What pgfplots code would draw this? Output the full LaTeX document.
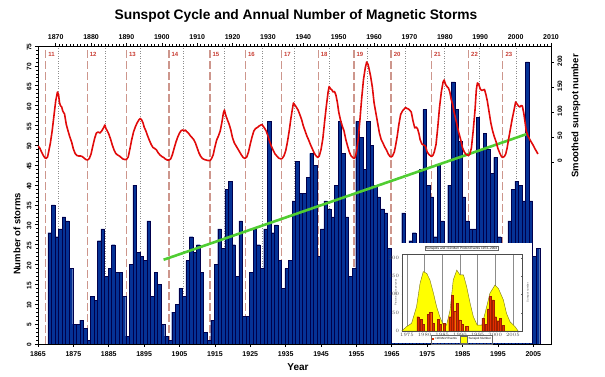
\documentclass[border=0pt]{standalone}
\usepackage{pgfplots}
\pgfplotsset{compat=1.18}
\usepackage{pgfplotstable}
\usepackage{fontspec}
\setmainfont{Liberation Sans}
\definecolor{barblue}{RGB}{5,50,150}
\definecolor{sunred}{RGB}{225,10,10}
\definecolor{trendgreen}{RGB}{80,205,50}
\definecolor{mindash}{RGB}{205,150,140}
\definecolor{cyclab}{RGB}{200,60,50}
\definecolor{maxdot}{RGB}{140,140,140}
\definecolor{insetyellow}{RGB}{255,255,0}
\definecolor{insetred}{RGB}{225,45,0}

\pgfplotstableread{
year n
1868 28
1869 35
1870 27
1871 29
1872 32
1873 31
1874 19
1875 5
1876 5
1877 6
1878 4
1879 1
1880 12
1881 11
1882 26
1883 29
1884 17
1885 19
1886 25
1887 18
1888 18
1889 12
1890 2
1891 20
1892 40
1893 23
1894 22
1895 21
1896 31
1897 12
1898 18
1899 15
1900 5
1901 2
1902 1
1903 8
1904 10
1905 14
1906 12
1907 21
1908 27
1909 23
1910 25
1911 18
1912 3
1913 1
1914 6
1915 20
1916 29
1917 24
1918 39
1919 41
1920 25
1921 17
1922 31
1923 7
1924 7
1925 18
1926 29
1927 25
1928 19
1929 29
1930 56
1931 28
1932 30
1933 21
1934 14
1935 19
1936 21
1937 36
1938 46
1939 38
1940 38
1941 42
1942 48
1943 45
1944 22
1945 29
1946 36
1947 34
1948 32
1949 40
1950 56
1951 48
1952 32
1953 17
1954 19
1955 56
1956 52
1957 44
1958 56
1959 50
1960 40
1961 37
1962 34
1963 33
1964 24
1965 12
1966 15
1967 18
1968 33
1969 18
1970 26
1971 28
1972 22
1973 44
1974 59
1975 40
1976 37
1977 27
1978 45
1979 31
1980 20
1981 40
1982 66
1983 59
1984 51
1985 37
1986 31
1987 29
1988 29
1989 57
1990 49
1991 53
1992 49
1993 43
1994 47
1995 27
1996 18
1997 18
1998 31
1999 39
2000 41
2001 40
2002 36
2003 71
2004 36
2005 22
2006 24
}\storms

\pgfplotstableread{
t s
1865.0 32
1865.5 28
1866.0 20
1866.5 13
1867.0 8
1867.3 7
1867.7 10
1868.0 20
1868.5 38
1869.0 62
1869.5 92
1870.0 122
1870.5 140
1870.8 135
1871.1 118
1871.4 112
1871.7 110
1872.0 102
1872.5 96
1873.0 75
1873.5 62
1874.0 50
1874.5 40
1875.0 26
1875.5 17
1876.0 13
1876.5 12
1877.0 12
1877.5 11
1878.0 8
1878.5 5
1879.0 4
1879.5 7
1880.0 16
1880.5 32
1881.0 47
1881.5 58
1882.0 60
1882.5 58
1883.0 62
1883.5 68
1883.9 74
1884.2 67
1884.6 62
1885.0 56
1885.5 46
1886.0 34
1886.5 24
1887.0 17
1887.5 14
1888.0 12
1888.5 9
1889.0 6
1889.5 5
1890.0 5
1890.5 10
1891.0 27
1891.5 45
1892.0 60
1892.5 70
1893.0 78
1893.5 84
1893.9 87
1894.3 84
1894.7 78
1895.0 70
1895.5 62
1896.0 52
1896.5 43
1897.0 35
1897.5 29
1898.0 27
1898.5 24
1899.0 18
1899.5 14
1900.0 11
1900.5 9
1901.0 6
1901.5 4
1902.0 4
1902.5 6
1903.0 15
1903.5 28
1904.0 40
1904.5 50
1905.0 58
1905.5 63
1906.0 64
1906.3 62
1906.6 64
1907.0 61
1907.5 58
1908.0 53
1908.5 49
1909.0 45
1909.5 38
1910.0 28
1910.5 18
1911.0 11
1911.5 7
1912.0 5
1912.5 4
1913.0 3
1913.6 3
1914.0 6
1914.5 14
1915.0 30
1915.5 44
1916.0 52
1916.5 62
1917.0 80
1917.4 98
1917.7 104
1918.0 95
1918.5 85
1919.0 76
1919.5 64
1920.0 48
1920.5 38
1921.0 32
1921.5 26
1922.0 20
1922.5 14
1923.0 9
1923.5 7
1924.0 10
1924.5 20
1925.0 36
1925.5 50
1926.0 62
1926.5 67
1927.0 69
1927.5 72
1928.0 74
1928.3 75
1928.6 72
1929.0 68
1929.5 62
1930.0 52
1930.5 40
1931.0 31
1931.5 23
1932.0 16
1932.5 12
1933.0 8
1933.7 6
1934.0 7
1934.5 12
1935.0 22
1935.5 40
1936.0 62
1936.5 88
1937.0 110
1937.2 118
1937.5 115
1938.0 110
1938.5 104
1939.0 95
1939.5 85
1940.0 72
1940.5 62
1941.0 52
1941.5 44
1942.0 35
1942.5 27
1943.0 19
1943.5 13
1944.1 9
1944.5 12
1945.0 25
1945.5 46
1946.0 80
1946.5 112
1947.0 140
1947.3 151
1947.7 146
1948.0 145
1948.4 140
1948.8 141
1949.2 134
1949.6 120
1950.0 100
1950.5 84
1951.0 72
1951.5 62
1952.0 45
1952.5 32
1953.0 20
1953.5 12
1954.3 7
1954.7 10
1955.0 20
1955.5 45
1956.0 85
1956.5 128
1957.0 165
1957.5 188
1957.9 200
1958.3 195
1958.7 182
1959.0 172
1959.5 150
1960.0 118
1960.5 98
1961.0 78
1961.5 58
1962.0 45
1962.5 38
1963.0 30
1963.5 24
1964.0 16
1964.5 11
1964.8 10
1965.2 12
1965.7 20
1966.0 30
1966.5 50
1967.0 75
1967.5 95
1968.0 102
1968.5 106
1968.9 109
1969.3 107
1969.7 106
1970.0 104
1970.5 100
1971.0 82
1971.5 68
1971.9 70
1972.3 66
1972.7 56
1973.0 45
1973.5 36
1974.0 34
1974.5 32
1975.0 20
1975.5 15
1976.2 11
1976.6 13
1977.0 20
1977.5 35
1978.0 70
1978.5 110
1979.0 140
1979.5 160
1979.8 164
1980.2 155
1980.7 150
1981.0 148
1981.4 140
1981.8 125
1982.2 115
1982.6 100
1983.0 88
1983.5 72
1984.0 57
1984.5 44
1985.0 28
1985.5 20
1986.0 15
1986.7 13
1987.0 15
1987.5 28
1988.0 62
1988.5 102
1988.9 145
1989.2 158
1989.6 155
1990.0 146
1990.4 143
1990.8 144
1991.2 145
1991.6 135
1992.0 122
1992.5 100
1993.0 78
1993.5 62
1994.0 50
1994.5 40
1995.0 27
1995.5 18
1996.0 11
1996.3 9
1996.8 11
1997.2 16
1997.6 28
1998.0 45
1998.5 65
1999.0 85
1999.5 102
2000.0 120
2000.4 116
2000.8 112
2001.2 110
2001.6 113
2001.9 112
2002.3 98
2002.7 78
2003.0 62
2003.5 52
2004.0 45
2004.5 39
2005.0 33
2005.5 26
2006.0 20
2006.3 16
}\ssn

\pgfplotstableread{
t s
1973.5 0
1974.9 12
1976.3 21
1977.7 66
1978.7 130
1979.6 162
1980.6 157
1981.5 139
1982.5 103
1983.4 66
1984.3 39
1985.3 16
1986.2 16
1987.2 57
1988.1 139
1989.1 166
1990.0 153
1991.0 153
1991.9 121
1992.9 75
1993.8 39
1994.9 16
1996.2 16
1997.1 48
1998.5 103
1999.9 125
2000.9 116
2002.3 85
2003.2 48
2004.2 25
2005.6 12
2006.5 0
}\insetssn

\pgfplotstableread{
t e
1978.1 39
1978.9 32
1979.5 19
1981.0 46
1981.7 51
1982.5 21
1983.8 32
1984.5 19
1985.6 21
1987.1 39
1987.8 98
1988.5 53
1989.3 75
1989.9 30
1990.6 19
1991.9 12
1996.5 35
1997.3 19
1998.0 60
1998.6 94
1999.4 85
2000.0 39
2000.8 28
2001.4 35
2002.2 16
}\insetev

\begin{document}
\begin{tikzpicture}
\path[use as bounding box] (0pt,0pt) rectangle (605pt,377pt);

% ---------------- main axis (storms) ----------------
\begin{axis}[
  at={(38pt,33pt)}, anchor=south west,
  width=513pt, height=298pt, scale only axis,
  xmin=1865, xmax=2010, ymin=0, ymax=75,
  axis line style={line width=0.8pt},
  xtick={1865,1875,...,2005}, xtick pos=bottom,
  ytick={0,5,...,75}, ytick pos=left,
  minor y tick num=4,
  tick align=outside,
  major tick length=3pt, minor tick length=1.6pt,
  every tick/.style={black, line width=0.6pt},
  /pgf/number format/assume math mode=true,
  /pgf/number format/1000 sep={},
  xticklabel style={font=\bfseries\fontsize{7}{8}\selectfont, yshift=-1pt},
  yticklabel style={font=\bfseries\fontsize{6.5}{7}\selectfont, rotate=90, anchor=south, xshift=-1pt},
  clip=true,
]
\addplot[ycomb, mark=none, maxdot, line width=0.5pt, dotted] coordinates {
(1870.6,75) (1883.9,75) (1894.0,75) (1906.1,75) (1917.6,75) (1928.3,75) (1937.4,75)
(1947.4,75) (1958.2,75) (1968.9,75) (1979.9,75) (1989.6,75) (2000.3,75)};
\addplot[ycomb, mark=none, mindash, line width=1.2pt, dash pattern=on 7.5pt off 3.5pt] coordinates {
(1867.2,75) (1878.9,75) (1890.0,75) (1902.0,75) (1913.6,75) (1923.6,75) (1933.8,75)
(1944.2,75) (1954.3,75) (1964.8,75) (1976.2,75) (1986.7,75) (1996.4,75)};
\addplot[ybar, bar width=1, bar shift=0pt, fill=barblue, draw=black!70!blue, line width=0.3pt]
  table[x expr=\thisrow{year}+0.3, y=n] {\storms};
\addplot[trendgreen, line width=2.6pt, mark=none] coordinates {(1900.5,21.2) (2003.0,52.8)};
\begin{scope}[every node/.style={font=\bfseries\fontsize{6}{7}\selectfont, text=cyclab, anchor=west, inner sep=0pt}]
\node at (axis cs:1867.9,72.8) {11};
\node at (axis cs:1879.6,72.8) {12};
\node at (axis cs:1890.7,72.8) {13};
\node at (axis cs:1902.7,72.8) {14};
\node at (axis cs:1914.3,72.8) {15};
\node at (axis cs:1924.3,72.8) {16};
\node at (axis cs:1934.5,72.8) {17};
\node at (axis cs:1944.9,72.8) {18};
\node at (axis cs:1955.0,72.8) {19};
\node at (axis cs:1965.5,72.8) {20};
\node at (axis cs:1976.9,72.8) {21};
\node at (axis cs:1987.4,72.8) {22};
\node at (axis cs:1997.1,72.8) {23};
\end{scope}
\end{axis}

% ---------------- second axis (sunspots, top and right) ----------------
\begin{axis}[
  at={(38pt,33pt)}, anchor=south west,
  width=513pt, height=298pt, scale only axis,
  xmin=1865, xmax=2010, ymin=-364, ymax=232,
  axis x line*=top, axis y line*=right,
  axis line style={line width=0.8pt},
  xtick={1870,1880,...,2010}, minor x tick num=9,
  ytick={0,50,...,200},
  tick align=outside,
  major tick length=3pt, minor tick length=1.6pt,
  every tick/.style={black, line width=0.6pt},
  /pgf/number format/assume math mode=true,
  /pgf/number format/1000 sep={},
  xticklabel style={font=\bfseries\fontsize{7}{8}\selectfont},
  yticklabel style={font=\bfseries\fontsize{6.5}{7}\selectfont, rotate=90, anchor=north, xshift=1pt},
]
\addplot[sunred, line width=1.6pt, mark=none, line join=round] table[x=t, y=s] {\ssn};
\end{axis}

% ---------------- inset ----------------
\fill[white] (392pt,33.8pt) rectangle (531.5pt,134pt);
\node[draw=black!60, line width=0.3pt, fill=white, inner sep=0.6pt, font=\fontsize{3.2}{3.5}\selectfont] at (461.5pt,128.5pt) {Sunspots and >10 MeV Proton Events 1973--2004};
\begin{axis}[
  at={(401.7pt,46pt)}, anchor=south west,
  width=120pt, height=77pt, scale only axis,
  xmin=1973.5, xmax=2007.5, ymin=0, ymax=210,
  axis line style={line width=0.3pt, black!70},
  xtick={1975,1980,...,2005},
  ytick={0,50,100,150,200},
  tick align=inside, major tick length=1pt,
  every tick/.style={black!60, line width=0.2pt},
  xmajorgrids, grid style={black!45, line width=0.3pt},
  /pgf/number format/1000 sep={},
  tick label style={font=\fontsize{2.6}{3}\selectfont, black!70},
  xticklabel style={yshift=0.8pt},
  yticklabel style={xshift=0.8pt},
  clip=true,
]
\addplot[fill=insetyellow, draw=olive!80!black, line width=0.4pt, mark=none] table[x=t, y=s] {\insetssn} \closedcycle;
\addplot[ybar, bar width=0.6, bar shift=0pt, fill=insetred, draw=insetred!70!black, line width=0.2pt] table[x=t, y=e] {\insetev};
\end{axis}
\node[font=\fontsize{2.6}{3}\selectfont, rotate=90, text=black!70] at (396pt,84.5pt) {Proton events per year};
\node[font=\fontsize{2.6}{3}\selectfont, rotate=90, text=black!70] at (528pt,84.5pt) {Sunspot number};
\node[draw=black!60, line width=0.3pt, inner sep=0.7pt, font=\fontsize{3}{3.5}\selectfont] at (461.5pt,37.5pt)
  {\textcolor{insetred}{\rule{2pt}{2pt}} >10 MeV Events\quad \fcolorbox{black!60}{insetyellow}{\rule{0pt}{1pt}\hspace{1pt}} Sunspot Number};

% ---------------- titles and labels ----------------
\node[font=\bfseries\fontsize{13.8}{15}\selectfont] at (296pt,361pt) {Sunspot Cycle and Annual Number of Magnetic Storms};
\node[font=\bfseries\fontsize{10}{12}\selectfont] at (298pt,10pt) {Year};
\node[font=\bfseries\fontsize{9.5}{11}\selectfont, rotate=90] at (17pt,143pt) {Number of storms};
\node[font=\bfseries\fontsize{9.5}{11}\selectfont, rotate=90] at (576pt,261pt) {Smoothed sunspot number};
\end{tikzpicture}
\end{document}
